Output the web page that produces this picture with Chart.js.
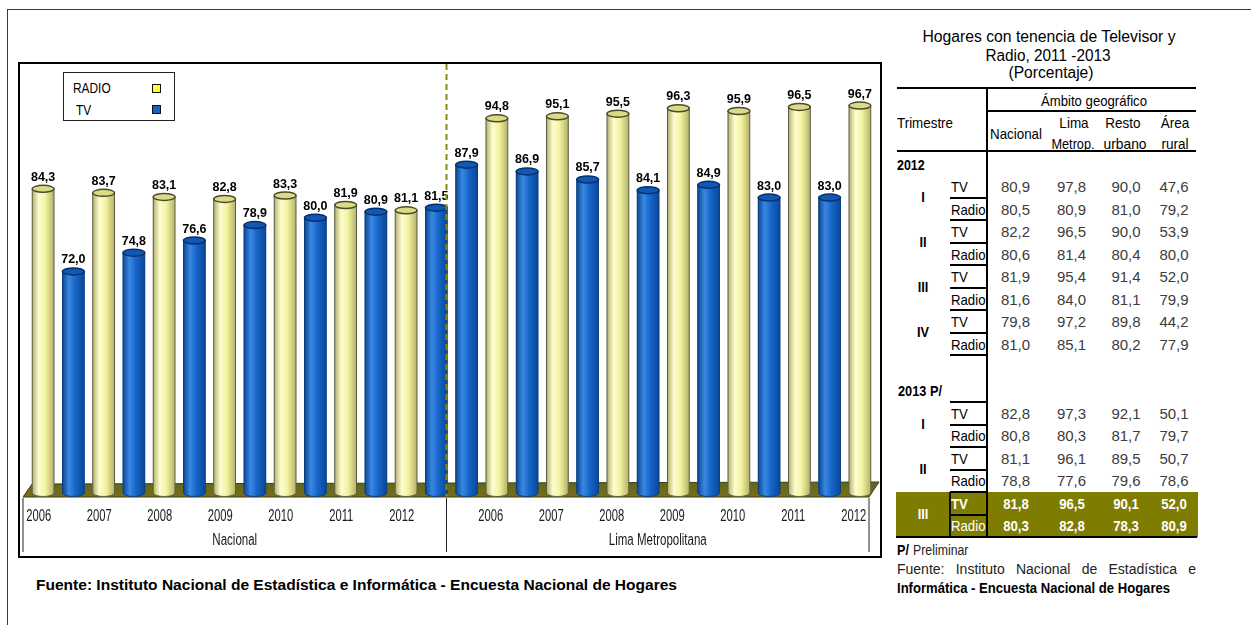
<!DOCTYPE html>
<html lang="es">
<head>
  <meta charset="UTF-8">
  <title>Hogares con tenencia de Televisor y Radio</title>
  <style>
    body { margin: 0; background: #fff; }
    #pagina { position: relative; width: 1251px; height: 625px; overflow: hidden; font-family: "Liberation Sans", Arial, sans-serif; color: #000; }
    .abs { position: absolute; white-space: nowrap; }
    .ln { position: absolute; background: #000; }
    canvas { display: block; }
  </style>
</head>
<body>
<div id="pagina">
  <div style="position:absolute;left:7px;top:9px;width:1300px;height:700px;border-top:1px solid #3a3a3a;border-left:1px solid #3a3a3a;"></div>
  <div id="caja" style="position:absolute;left:18px;top:62px;width:860px;height:492px;border:2px solid #000;">
    <canvas id="grafico" width="860" height="492"></canvas>
  </div>
  <div id="leyenda" style="position:absolute;left:63px;top:72px;width:110px;height:47px;border:1px solid #222;background:#fff;"></div>
</div>

<script src="https://cdn.jsdelivr.net/npm/chart.js"></script>
<script>
  // datos del grafico
  const anios = ['2006', '2007', '2008', '2009', '2010', '2011', '2012'];
  const ambitos = ['Nacional', 'Lima Metropolitana'];
  const radioNacional = [84.3, 83.7, 83.1, 82.8, 83.3, 81.9, 81.1];
  const tvNacional = [72.0, 74.8, 76.6, 78.9, 80.0, 80.9, 81.5];
  const tvLima = [87.9, 86.9, 85.7, 84.1, 84.9, 83.0, 83.0];
  const radioLima = [94.8, 95.1, 95.5, 96.3, 95.9, 96.5, 96.7];

  // datos de la tabla
  const trimestres = ['I', 'II', 'III', 'IV'];
  const tv2012 = [[80.9, 97.8, 90.0, 47.6], [82.2, 96.5, 90.0, 53.9], [81.9, 95.4, 91.4, 52.0], [79.8, 97.2, 89.8, 44.2]];
  const radio2012 = [[80.5, 80.9, 81.0, 79.2], [80.6, 81.4, 80.4, 80.0], [81.6, 84.0, 81.1, 79.9], [81.0, 85.1, 80.2, 77.9]];
  const tv2013 = [[82.8, 97.3, 92.1, 50.1], [81.1, 96.1, 89.5, 50.7], [81.8, 96.5, 90.1, 52.0]];
  const radio2013 = [[80.8, 80.3, 81.7, 79.7], [78.8, 77.6, 79.6, 78.6], [80.3, 82.8, 78.3, 80.9]];

  const coma = v => v.toFixed(1).replace('.', ',');
  const pagina = document.getElementById('pagina');

  const colores = {
    radio: { borde: '#b4b16a', luz: '#fdfdd2', cuerpo: '#f4f3a0', linea: '#5c5c44', tapa: '#dcd987', aro: '#4a4a2c' },
    tv: { borde: '#0b4796', luz: '#3a88e2', cuerpo: '#1565c8', linea: '#0d3f80', tapa: '#0f58b6', aro: '#082f6a' }
  };

  function cilindro(ctx, x, top, base, w, p) {
    const l = x - w / 2, r = x + w / 2, ry = 3.5;
    const g = ctx.createLinearGradient(l, 0, r, 0);
    g.addColorStop(0, p.borde);
    g.addColorStop(0.3, p.luz);
    g.addColorStop(0.6, p.cuerpo);
    g.addColorStop(1, p.borde);
    ctx.beginPath();
    ctx.moveTo(l, top);
    ctx.lineTo(l, base);
    ctx.ellipse(x, base, w / 2, ry, 0, Math.PI, 0, true);
    ctx.lineTo(r, top);
    ctx.closePath();
    ctx.fillStyle = g;
    ctx.fill();
    ctx.strokeStyle = p.linea;
    ctx.lineWidth = 1;
    ctx.stroke();
    ctx.beginPath();
    ctx.ellipse(x, top, w / 2, ry, 0, 0, Math.PI * 2);
    ctx.fillStyle = p.tapa;
    ctx.fill();
    ctx.strokeStyle = p.aro;
    ctx.lineWidth = 1.5;
    ctx.stroke();
  }

  function textoEscalado(ctx, s, x, y, sx) {
    ctx.save();
    ctx.translate(x, y);
    ctx.scale(sx, 1);
    ctx.fillText(s, 0, 0);
    ctx.restore();
  }

  const cilindros = {
    id: 'cilindros',
    beforeDatasetsDraw(chart) {
      const { ctx, chartArea: a } = chart;
      // piso 3D
      ctx.save();
      ctx.beginPath();
      ctx.moveTo(a.left + 4, a.bottom - 9);
      ctx.lineTo(a.right + 4, a.bottom - 11);
      ctx.lineTo(a.right - 6, a.bottom + 4);
      ctx.lineTo(a.left - 5, a.bottom + 4);
      ctx.closePath();
      const g = ctx.createLinearGradient(0, a.bottom - 11, 0, a.bottom + 4);
      g.addColorStop(0, '#5b6a1e');
      g.addColorStop(1, '#7a6c1a');
      ctx.fillStyle = g;
      ctx.fill();
      ctx.strokeStyle = '#3d3d12';
      ctx.lineWidth = 1;
      ctx.stroke();
      ctx.restore();
    },
    afterDatasetsDraw(chart) {
      const { ctx, chartArea: a } = chart;
      const xs = chart.scales.x;
      ctx.save();
      const etiquetas = [];
      chart.data.datasets.forEach((ds, i) => {
        chart.getDatasetMeta(i).data.forEach((el, j) => {
          const v = ds.data[j];
          if (v === null) return;
          const base = Math.min(el.base, a.bottom);
          cilindro(ctx, el.x, el.y, base, el.width, colores[ds.tipo]);
          etiquetas.push([coma(v), el.x, el.y]);
        });
      });
      ctx.fillStyle = '#000';
      ctx.font = 'bold 12.5px "Liberation Sans", Arial, sans-serif';
      ctx.textAlign = 'center';
      ctx.textBaseline = 'alphabetic';
      etiquetas.forEach(([s, x, y]) => ctx.fillText(s, x, y - 8));

      // division entre ambitos
      const medio = (xs.getPixelForValue(anios.length - 1) + xs.getPixelForValue(anios.length)) / 2 - 5;
      ctx.strokeStyle = '#8c8a10';
      ctx.lineWidth = 2;
      ctx.setLineDash([6, 4]);
      ctx.beginPath();
      ctx.moveTo(medio, 0);
      ctx.lineTo(medio, a.bottom + 3);
      ctx.stroke();
      ctx.setLineDash([]);

      // eje de categorias
      const seps = [a.left - 5, medio, a.right - 6];
      ctx.strokeStyle = '#222';
      ctx.lineWidth = 1;
      seps.forEach(x => {
        ctx.beginPath();
        ctx.moveTo(x, a.bottom + 5);
        ctx.lineTo(x, a.bottom + 59);
        ctx.stroke();
      });
      ctx.fillStyle = '#1a1a1a';
      ctx.font = '16px "Liberation Sans", Arial, sans-serif';
      ctx.textBaseline = 'middle';
      chart.data.labels.forEach((lab, i) => {
        const off = i < anios.length ? -19.5 : 9;
        textoEscalado(ctx, lab, xs.getPixelForValue(i) + off, a.bottom + 24, 0.7);
      });
      ambitos.forEach((s, k) => {
        textoEscalado(ctx, s, (seps[k] + seps[k + 1]) / 2, a.bottom + 48, 0.72);
      });
      ctx.restore();
    }
  };

  const nulos = anios.map(() => null);
  new Chart(document.getElementById('grafico'), {
    type: 'bar',
    data: {
      labels: anios.concat(anios),
      datasets: [
        { label: 'RADIO', tipo: 'radio', data: radioNacional.concat(nulos), backgroundColor: '#f4f3a0' },
        { label: 'TV', tipo: 'tv', data: tvNacional.concat(tvLima), backgroundColor: '#1565c8' },
        { label: 'RADIO', tipo: 'radio', data: nulos.concat(radioLima), backgroundColor: '#f4f3a0' }
      ]
    },
    options: {
      responsive: false,
      animation: false,
      layout: { padding: { left: 8, right: 5, top: 6, bottom: 63 } },
      datasets: { bar: { skipNull: true, categoryPercentage: 1, barPercentage: 0.72, borderWidth: 0 } },
      scales: {
        x: { display: false },
        y: { display: false, min: 39, max: 102 }
      },
      plugins: { legend: { display: false }, tooltip: { enabled: false } }
    },
    plugins: [cilindros]
  });

  // textos html
  function texto(str, x, y, o) {
    const s = document.createElement('span');
    s.className = 'abs';
    s.textContent = str;
    const size = o.size || 15;
    s.style.font = (o.bold ? 'bold ' : '') + size + 'px "Liberation Sans", Arial, sans-serif';
    s.style.lineHeight = size + 'px';
    s.style.color = o.color || '#000';
    s.style.top = (y - 0.49 * size) + 'px';
    s.style.left = x + 'px';
    pagina.appendChild(s);
    let sx = o.sx || 1;
    if (o.ancho) sx = o.ancho / s.getBoundingClientRect().width;
    if (o.align === 'center') {
      s.style.transformOrigin = '50% 50%';
      s.style.transform = 'translateX(-50%) scaleX(' + sx + ')';
    } else {
      s.style.transformOrigin = '0 50%';
      s.style.transform = 'scaleX(' + sx + ')';
    }
    return s;
  }
  function linea(x1, y1, x2, y2, w, color) {
    const d = document.createElement('div');
    d.className = 'ln';
    if (y1 === y2) {
      d.style.left = x1 + 'px'; d.style.top = (y1 - w / 2) + 'px';
      d.style.width = (x2 - x1) + 'px'; d.style.height = w + 'px';
    } else {
      d.style.left = (x1 - w / 2) + 'px'; d.style.top = y1 + 'px';
      d.style.width = w + 'px'; d.style.height = (y2 - y1) + 'px';
    }
    if (color) d.style.background = color;
    pagina.appendChild(d);
  }

  // leyenda
  texto('RADIO', 73, 88, { size: 14, sx: 0.85 });
  texto('TV', 76, 110, { size: 14, sx: 0.85 });
  [['#ffff33', 84], ['#1464c8', 105]].forEach(([c, y]) => {
    const d = document.createElement('div');
    d.style.cssText = 'position:absolute;left:152px;top:' + y + 'px;width:7px;height:7px;border:1px solid #111;background:' + c + ';';
    pagina.appendChild(d);
  });

  texto('Fuente: Instituto Nacional de Estadística e Informática - Encuesta Nacional de Hogares', 36, 585, { size: 14, bold: true, ancho: 641 });

  // tabla
  const banda = document.createElement('div');
  banda.style.cssText = 'position:absolute;left:896px;top:492px;width:302px;height:45px;background:#7f7c02;';
  pagina.appendChild(banda);

  texto('Hogares con tenencia de Televisor y', 1048.5, 37, { size: 16, align: 'center', ancho: 253 });
  texto('Radio, 2011 -2013', 1047.5, 56, { size: 16, align: 'center', ancho: 125 });
  texto('(Porcentaje)', 1050.5, 73, { size: 16, align: 'center', ancho: 85 });

  linea(897, 88, 1196, 88, 2);
  linea(987, 110.5, 1196, 110.5, 2);
  linea(897, 151, 1196, 151, 2);
  linea(987, 88, 987, 537, 2);
  linea(896, 537, 1197, 537, 2);
  linea(950, 492, 950, 537, 2, '#111');

  texto('Ámbito geográfico', 1094, 100, { size: 15, align: 'center', ancho: 106 });
  texto('Trimestre', 897, 122, { size: 15, ancho: 56 });
  texto('Nacional', 1016, 133, { size: 15, align: 'center', ancho: 52 });
  texto('Lima', 1074, 122, { size: 15, align: 'center', sx: 0.9 });
  texto('Metrop.', 1072.5, 143, { size: 15, align: 'center', ancho: 43 });
  texto('Resto', 1123, 122, { size: 15, align: 'center', sx: 0.9 });
  texto('urbano', 1125.3, 143, { size: 15, align: 'center', ancho: 43 });
  texto('Área', 1175, 122, { size: 15, align: 'center', sx: 0.9 });
  texto('rural', 1174.5, 143, { size: 15, align: 'center', sx: 0.9 });

  const colX = [1015.5, 1071.5, 1126, 1174];
  const paso = 22.5;
  function bloque(y0, tv, radio, destacarUltimo, lineaSuperior) {
    if (lineaSuperior) linea(950, y0 - paso / 2, 987, y0 - paso / 2, 2);
    tv.forEach((fila, q) => {
      const yTv = y0 + q * 2 * paso;
      const yRa = yTv + paso;
      const dest = destacarUltimo && q === tv.length - 1;
      const col = dest ? '#fff' : '#000';
      texto(trimestres[q], 923, yTv + paso / 2 - 1, { size: 15, bold: true, align: 'center', sx: 0.85, color: col });
      texto('TV', 950.5, yTv, { size: 15, sx: 0.88, color: col, bold: dest });
      texto('Radio', 950.5, yRa, { size: 15, sx: 0.88, color: col });
      linea(950, yTv + paso / 2, 987, yTv + paso / 2, 2);
      if (!dest) linea(950, yRa + paso / 2, 987, yRa + paso / 2, 2);
      fila.forEach((v, c) => texto(coma(v), colX[c], yTv, dest
        ? { size: 15, bold: true, align: 'center', sx: 0.88, color: '#fff' }
        : { size: 15, align: 'center', color: '#3c3c3c' }));
      radio[q].forEach((v, c) => texto(coma(v), colX[c], yRa, dest
        ? { size: 15, bold: true, align: 'center', sx: 0.88, color: '#fff' }
        : { size: 15, align: 'center', color: '#3c3c3c' }));
    });
  }
  texto('2012', 897, 164, { size: 15, bold: true, sx: 0.83 });
  bloque(186.5, tv2012, radio2012, false, false);
  texto('2013 P/', 898, 390, { size: 15, bold: true, ancho: 44 });
  bloque(413.3, tv2013, radio2013, true, true);

  // notas
  texto('P/', 897, 550, { size: 14, bold: true, sx: 0.9 });
  texto('Preliminar', 913, 550, { size: 14, sx: 0.88, color: '#222' });
  const just = document.createElement('div');
  just.style.cssText = 'position:absolute;left:897px;top:' + (569 - 0.49 * 14) + 'px;width:299px;font:14px "Liberation Sans", Arial, sans-serif;line-height:14px;text-align:justify;text-align-last:justify;color:#222;';
  just.textContent = 'Fuente: Instituto Nacional de Estadística e';
  pagina.appendChild(just);
  texto('Informática - Encuesta Nacional de Hogares', 897, 588, { size: 14, bold: true, ancho: 273 });
</script>
</body>
</html>
